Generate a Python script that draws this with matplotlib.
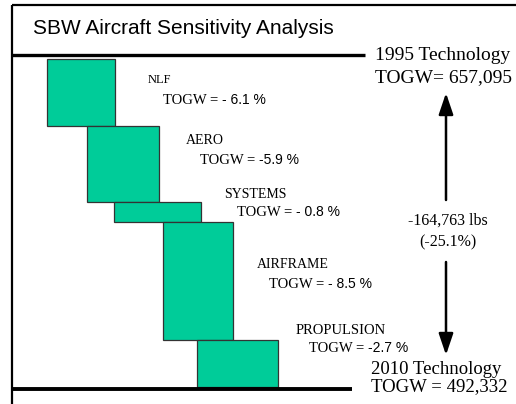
import matplotlib

matplotlib.use("Agg")
import matplotlib.pyplot as plt
import numpy as np

# waterfall steps, top to bottom (heights in chart units)
categories = ["NLF", "AERO", "SYSTEMS", "AIRFRAME", "PROPULSION"]
togw_change = ["- 6.1 %", "-5.9 %", "- 0.8 %", "- 8.5 %", "-2.7 %"]
step_heights = [67, 76, 20, 118, 47]
step_left = [47, 87, 114, 163, 197]
step_right = [115, 159, 201, 233, 278]
start_level = 59

baseline_label = ["1995 Technology", "TOGW= 657,095"]
final_label = ["2010 Technology", "TOGW = 492,332"]
delta_label = ["-164,763 lbs", "(-25.1%)"]
title = "SBW Aircraft Sensitivity Analysis"

# label anchors (name, then TOGW line)
name_pos = [(148, 80), (186, 141), (224, 194), (257, 265), (296, 330)]
togw_pos = [(163, 100), (200, 160), (237, 213), (269, 285), (309, 348)]
name_size = [9, 10, 10, 10, 10.5]

GREEN = "#00CC99"
SERIF = "Liberation Serif"
SANS = "Liberation Sans"

fig = plt.figure(figsize=(5.16, 4.04), dpi=100)
ax = fig.add_axes([0, 0, 1, 1])
ax.set_xlim(0, 516)
ax.set_ylim(404, 0)
ax.axis("off")

# frame
ax.plot([12, 516], [5, 5], color="black", lw=1.6, solid_capstyle="butt")
ax.plot([12, 12], [5, 404], color="black", lw=1.6, solid_capstyle="butt")
ax.plot([12, 365], [55, 55], color="black", lw=2.4, solid_capstyle="butt")
ax.plot([12, 352], [389, 389], color="black", lw=2.8, solid_capstyle="butt")

ax.text(33, 28, title, family=SANS, fontsize=15, va="center", ha="left")

tops = start_level + np.concatenate([[0], np.cumsum(step_heights)[:-1]])
widths = np.array(step_right) - np.array(step_left)
ax.bar(step_left, step_heights, width=widths, bottom=tops, align="edge",
       color=GREEN, edgecolor="#333333", linewidth=0.9)

for name, togw, (nx, ny), (tx, ty), fs in zip(categories, togw_change, name_pos,
                                              togw_pos, name_size):
    ax.text(nx, ny, name, family=SERIF, fontsize=fs, va="center", ha="left")
    t = ax.text(tx, ty, "TOGW = ", family=SERIF, fontsize=10.5, va="center", ha="left")
    ax.annotate(togw, xy=(1, 0), xycoords=t, family=SANS, fontsize=10,
                va="bottom", ha="left")

ax.text(375, 55, baseline_label[0], family=SERIF, fontsize=14, va="center", ha="left")
ax.text(375, 78, baseline_label[1], family=SERIF, fontsize=14, va="center", ha="left")
ax.text(371, 370, final_label[0], family=SERIF, fontsize=13.5, va="center", ha="left")
ax.text(371, 387, final_label[1], family=SERIF, fontsize=13.5, va="center", ha="left")
ax.text(448, 221, delta_label[0], family=SERIF, fontsize=11.5, va="center", ha="center")
ax.text(448, 242, delta_label[1], family=SERIF, fontsize=11.5, va="center", ha="center")

arrow = dict(arrowstyle="-|>,head_length=0.65,head_width=0.22", color="black",
             lw=1.8, mutation_scale=20, shrinkA=0, shrinkB=0)
ax.annotate("", xy=(446, 93), xytext=(446, 200), arrowprops=arrow)
ax.annotate("", xy=(446, 355), xytext=(446, 262), arrowprops=arrow)

fig.savefig("out.png", dpi=100)
